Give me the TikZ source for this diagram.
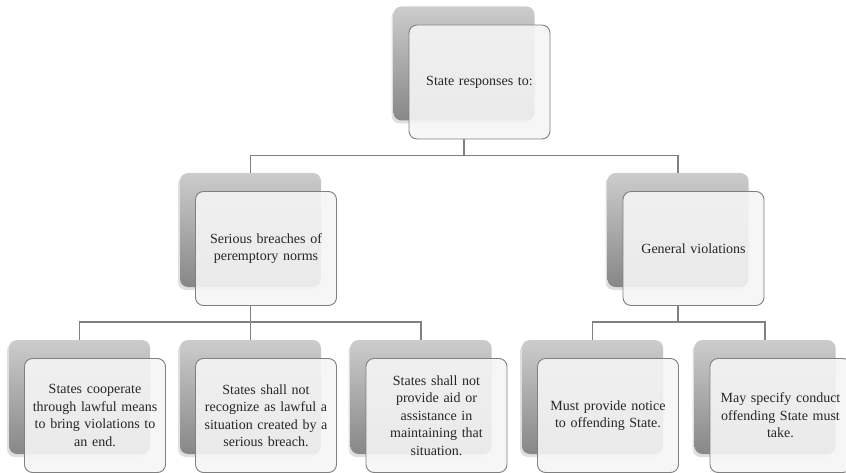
\documentclass[tikz,border=0pt]{standalone}
\usepackage{fontspec}
\setmainfont{Liberation Serif}
\usepackage{tikz}
\usetikzlibrary{shadows}
\tikzstyle{back}=[rounded corners=8pt,minimum width=141pt,minimum height=114pt,inner sep=0pt,
  top color=black!20,bottom color=black!47,draw=none,
  drop shadow={shadow xshift=-2pt,shadow yshift=-3pt,opacity=0.25}]
\tikzstyle{front}=[rounded corners=8pt,minimum width=141pt,minimum height=114pt,inner sep=4pt,
  draw=black!50,line width=0.9pt,fill=white!96!black,fill opacity=0.9,text opacity=1,
  text width=131pt,align=center,text=black!85,font=\fontsize{14}{17.5}\selectfont]
\tikzstyle{link}=[draw=black!50,line width=1.2pt]

\begin{document}
\begin{tikzpicture}[x=1pt,y=-1pt]
              \useasboundingbox (0,0) rectangle (846,473);
              \foreach \name/\x/\y/\text in {0/464/63.5/{State responses to:},
                                             1/250.5/230/{Serious breaches of\\peremptory norms},
                                             2/678/230/{General violations},
                                             3/79.5/397/{States cooperate\\through lawful means\\to bring violations to\\an end.},
                                             4/250.5/397/{States shall not\\recognize as lawful a\\situation created by a\\serious breach.},
                                             5/421/397/{States shall not\\provide aid or\\assistance in\\maintaining that\\situation.},
                                             6/592.5/397/{Must provide notice\\to offending State.},
                                             7/765/397/{May specify conduct\\offending State must\\take.}}
                {
                \node[back] (B-\name) at (\x,\y) {};
                \node[front] (F-\name) at ([xshift=15.5pt,yshift=-18.5pt]B-\name.center) {\text};
                }
              \foreach \from/\to in {0/1,0/2,1/3,1/4,1/5,2/6,2/7}
                \draw[link] (B-\from |- F-\from.south) -- ++(0,16) -| (B-\to.north);
            \end{tikzpicture}
\end{document}
